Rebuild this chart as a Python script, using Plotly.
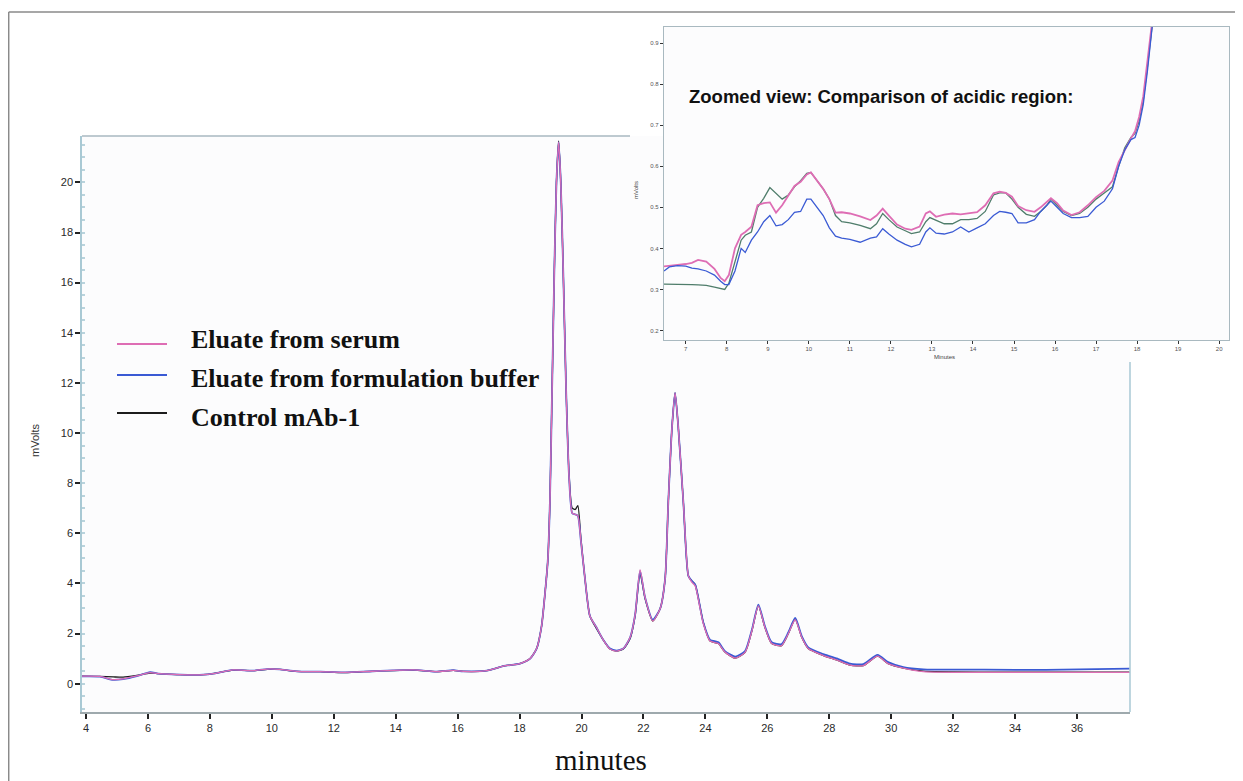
import plotly.graph_objects as go

# page body adds an 8px margin; the figure is sized to fill the rest of the window
OFF = 8
FW, FH = 1243 - OFF, 781 - OFF

# ---------------- main chromatogram data (minutes, mVolts) ----------------
t_main = [3.87, 4.45, 4.88, 5.2, 5.64, 6.07, 6.33, 7.04, 7.79, 8.1,
          8.75, 9.4, 9.94, 10.26, 10.8, 11.56, 12.31, 12.95, 14.57, 15.32,
          15.86, 16.18, 16.94, 17.47, 18.01, 18.34, 18.55, 18.71, 18.82, 18.91,
          18.98, 19.05, 19.12, 19.19, 19.26, 19.33, 19.41, 19.5, 19.6, 19.7,
          19.8, 19.88, 19.98, 20.11, 20.27, 20.48, 20.7, 20.92, 21.13, 21.35,
          21.57, 21.73, 21.89, 22.05, 22.3, 22.54, 22.7, 22.8, 22.92, 23.02,
          23.12, 23.29, 23.45, 23.56, 23.67, 23.93, 24.15, 24.42, 24.63, 24.96,
          25.28, 25.5, 25.71, 25.92, 26.14, 26.46, 26.68, 26.9, 27.11, 27.32,
          27.81, 28.29, 28.67, 29.1, 29.56, 29.9, 30.39, 31.04, 33.0, 35.0,
          37.7]

control_main = [0.30, 0.29, 0.27, 0.26, 0.33, 0.42, 0.40, 0.36, 0.36, 0.40,
                0.54, 0.52, 0.58, 0.57, 0.49, 0.48, 0.44, 0.48, 0.54, 0.48,
                0.53, 0.49, 0.52, 0.70, 0.80, 1.00, 1.40, 2.30, 3.60, 4.90,
                7.30, 11.8, 16.4, 20.0, 21.65, 20.0, 16.4, 11.8, 8.3, 7.0,
                6.95, 7.1, 5.8, 4.2, 2.7, 2.2, 1.75, 1.38, 1.30, 1.38,
                1.80, 2.70, 4.40, 3.40, 2.50, 3.00, 4.20, 7.20, 10.2, 11.6,
                10.3, 7.2, 4.3, 4.1, 3.95, 2.45, 1.70, 1.60, 1.26, 1.02,
                1.25, 2.10, 3.10, 2.25, 1.60, 1.52, 2.00, 2.58, 1.85, 1.40,
                1.12, 0.92, 0.74, 0.72, 1.10, 0.80, 0.62, 0.50, 0.46, 0.46,
                0.46]

serum_main = [0.30, 0.29, 0.16, 0.19, 0.31, 0.44, 0.40, 0.36, 0.36, 0.40,
              0.55, 0.52, 0.59, 0.57, 0.49, 0.48, 0.45, 0.48, 0.55, 0.48,
              0.53, 0.49, 0.52, 0.70, 0.80, 1.00, 1.40, 2.30, 3.60, 4.90,
              7.30, 11.8, 16.4, 20.0, 21.6, 20.0, 16.4, 11.8, 8.2, 6.8,
              6.75, 6.7, 5.7, 4.2, 2.7, 2.25, 1.75, 1.38, 1.30, 1.40,
              1.85, 2.75, 4.55, 3.45, 2.50, 3.00, 4.20, 7.20, 10.2, 11.6,
              10.3, 7.2, 4.3, 4.05, 3.9, 2.4, 1.70, 1.60, 1.26, 1.02,
              1.25, 2.10, 3.10, 2.25, 1.60, 1.52, 2.00, 2.55, 1.85, 1.40,
              1.12, 0.92, 0.74, 0.72, 1.10, 0.80, 0.62, 0.48, 0.45, 0.45,
              0.45]

buffer_main = [0.29, 0.28, 0.15, 0.18, 0.30, 0.46, 0.40, 0.36, 0.36, 0.40,
               0.55, 0.52, 0.59, 0.57, 0.49, 0.48, 0.45, 0.48, 0.55, 0.48,
               0.54, 0.49, 0.52, 0.70, 0.80, 1.00, 1.40, 2.30, 3.60, 4.90,
               7.30, 11.8, 16.4, 20.0, 21.6, 20.0, 16.4, 11.8, 8.2, 6.8,
               6.75, 6.7, 5.7, 4.2, 2.7, 2.25, 1.75, 1.40, 1.32, 1.40,
               1.85, 2.75, 4.50, 3.45, 2.55, 3.00, 4.20, 7.20, 10.2, 11.6,
               10.3, 7.2, 4.3, 4.1, 3.95, 2.45, 1.75, 1.65, 1.30, 1.08,
               1.30, 2.15, 3.15, 2.30, 1.65, 1.58, 2.05, 2.62, 1.90, 1.45,
               1.18, 0.98, 0.80, 0.78, 1.15, 0.86, 0.66, 0.57, 0.56, 0.55,
               0.60]

# ---------------- inset (acidic region) data ----------------
t_inset = [6.47, 6.6, 6.8, 7.0, 7.15, 7.3, 7.5, 7.7, 7.85, 7.95,
           8.05, 8.2, 8.35, 8.45, 8.6, 8.75, 8.9, 9.05, 9.2, 9.35,
           9.5, 9.65, 9.8, 9.95, 10.05, 10.2, 10.35, 10.5, 10.65, 10.8,
           11.0, 11.25, 11.5, 11.65, 11.8, 11.95, 12.15, 12.35, 12.5, 12.7,
           12.85, 12.95, 13.1, 13.3, 13.5, 13.7, 13.9, 14.1, 14.3, 14.5,
           14.65, 14.8, 14.95, 15.1, 15.3, 15.5, 15.65, 15.8, 15.9, 16.05,
           16.2, 16.4, 16.6, 16.8, 17.0, 17.2, 17.4, 17.55, 17.7, 17.85,
           17.95, 18.05, 18.15, 18.25, 18.32, 18.4]

control_inset = [0.313, 0.313, 0.312, 0.313, 0.312, 0.311, 0.31, 0.306, 0.302, 0.3,
                 0.315, 0.37, 0.42, 0.432, 0.44, 0.5, 0.522, 0.548, 0.535, 0.52,
                 0.53, 0.55, 0.565, 0.583, 0.585, 0.565, 0.545, 0.52, 0.48, 0.465,
                 0.462, 0.456, 0.448, 0.46, 0.485, 0.47, 0.452, 0.443, 0.436, 0.44,
                 0.465, 0.475, 0.468, 0.46, 0.46, 0.47, 0.47, 0.473, 0.49, 0.53,
                 0.535, 0.535, 0.52, 0.5, 0.483, 0.478, 0.49, 0.505, 0.52, 0.505,
                 0.49, 0.48, 0.485, 0.5, 0.52, 0.535, 0.55, 0.6, 0.645, 0.67,
                 0.68, 0.71, 0.76, 0.84, 0.9, 0.97]

buffer_inset = [0.345, 0.355, 0.358, 0.357, 0.352, 0.35, 0.345, 0.335, 0.32, 0.312,
                0.312, 0.345, 0.4, 0.39, 0.42, 0.44, 0.465, 0.48, 0.455, 0.458,
                0.47, 0.488, 0.49, 0.52, 0.52, 0.5, 0.48, 0.45, 0.43, 0.425,
                0.422, 0.415, 0.425, 0.428, 0.448, 0.435, 0.42, 0.41, 0.404, 0.41,
                0.44, 0.45, 0.437, 0.435, 0.44, 0.452, 0.44, 0.45, 0.46, 0.48,
                0.49, 0.488, 0.485, 0.462, 0.462, 0.47, 0.49, 0.505, 0.515, 0.5,
                0.485, 0.475, 0.475, 0.478, 0.5, 0.515, 0.545, 0.6, 0.64, 0.665,
                0.67, 0.7, 0.75, 0.83, 0.9, 0.97]

serum_inset = [0.356, 0.358, 0.36, 0.362, 0.365, 0.372, 0.368, 0.35, 0.328, 0.32,
               0.335, 0.4, 0.433, 0.44, 0.453, 0.505, 0.51, 0.512, 0.487, 0.505,
               0.53, 0.552, 0.562, 0.58, 0.585, 0.566, 0.545, 0.52, 0.487, 0.488,
               0.485, 0.478, 0.469, 0.48, 0.497, 0.48, 0.458, 0.448, 0.445, 0.453,
               0.485, 0.49, 0.477, 0.482, 0.485, 0.483, 0.485, 0.488, 0.505, 0.534,
               0.538, 0.535, 0.526, 0.503, 0.493, 0.489, 0.5, 0.512, 0.522, 0.51,
               0.492, 0.481, 0.488, 0.505, 0.525, 0.54, 0.565, 0.61, 0.64, 0.668,
               0.685, 0.72, 0.77, 0.86, 0.92, 0.98]

series_names = ["Eluate from serum", "Eluate from formulation buffer", "Control mAb-1"]
main_ticks_x = list(range(4, 37, 2))
main_ticks_y = list(range(0, 21, 2))
inset_ticks_x = list(range(7, 21))
inset_ticks_y = [0.2, 0.3, 0.4, 0.5, 0.6, 0.7, 0.8, 0.9]

PINK = "#de6db4"
BLUE = "#3a5ad4"
BLACK = "#1c1c1c"
GREEN = "#4f7d6b"


def px(x):
    """window pixel x -> paper fraction"""
    return (x - OFF) / FW


def py(y):
    """window pixel y -> paper fraction"""
    return 1 - (y - OFF) / FH


fig = go.Figure()

# main plot traces
fig.add_trace(go.Scatter(x=t_main, y=control_main, mode="lines", name=series_names[2],
                         line=dict(color=BLACK, width=1.3, shape="spline", smoothing=0.6),
                         xaxis="x", yaxis="y", showlegend=False))
fig.add_trace(go.Scatter(x=t_main, y=buffer_main, mode="lines", name=series_names[1],
                         line=dict(color=BLUE, width=1.8, shape="spline", smoothing=0.6),
                         xaxis="x", yaxis="y", showlegend=False))
fig.add_trace(go.Scatter(x=t_main, y=serum_main, mode="lines", name=series_names[0],
                         line=dict(color=PINK, width=1.3, shape="spline", smoothing=0.6),
                         xaxis="x", yaxis="y", showlegend=False))

# inset traces
fig.add_trace(go.Scatter(x=t_inset, y=control_inset, mode="lines", name=series_names[2],
                         line=dict(color=GREEN, width=1.3),
                         xaxis="x2", yaxis="y2", showlegend=False))
fig.add_trace(go.Scatter(x=t_inset, y=serum_inset, mode="lines", name=series_names[0],
                         line=dict(color=PINK, width=1.8),
                         xaxis="x2", yaxis="y2", showlegend=False))
fig.add_trace(go.Scatter(x=t_inset, y=buffer_inset, mode="lines", name=series_names[1],
                         line=dict(color=BLUE, width=1.3),
                         xaxis="x2", yaxis="y2", showlegend=False))

tickfont_main = dict(family="Liberation Sans, Arial", size=11, color="#2a2a2a")
tickfont_inset = dict(family="Liberation Sans, Arial", size=6, color="#555")

fig.update_layout(
    width=FW, height=FH, autosize=False,
    margin=dict(l=0, r=0, t=0, b=0),
    paper_bgcolor="#ffffff",
    plot_bgcolor="#fcfcfd",
    xaxis=dict(domain=[px(82), px(1130)], range=[3.87, 37.71], anchor="y",
               tickvals=main_ticks_x, ticks="outside", ticklen=5, tickwidth=1.5,
               tickcolor="#222", showline=True, linecolor="#9ea9ad", linewidth=1.5,
               showgrid=False, zeroline=False, tickfont=tickfont_main),
    yaxis=dict(domain=[py(712), py(136)], range=[-1.13, 21.85], anchor="x",
               tickvals=main_ticks_y, ticks="outside", ticklen=5, tickwidth=1.5,
               tickcolor="#222", showline=True, linecolor="#a9c9d4", linewidth=1.5,
               showgrid=False, zeroline=False, tickfont=tickfont_main,
               minor=dict(dtick=0.5, ticks="inside", ticklen=3, tickcolor="#b9d3dc")),
    xaxis2=dict(domain=[px(664), px(1229)], range=[6.47, 20.24], anchor="y2",
                tickvals=inset_ticks_x, ticks="outside", ticklen=3, tickwidth=1,
                tickcolor="#333", showline=True, mirror=True, linecolor="#a9b9c0",
                linewidth=1.2, showgrid=False, zeroline=False, tickfont=tickfont_inset),
    yaxis2=dict(domain=[py(340), py(27)], range=[0.177, 0.939], anchor="x2",
                tickvals=inset_ticks_y, ticktext=[f"{v:.1f}" for v in inset_ticks_y],
                ticks="outside", ticklen=3, tickwidth=1, tickcolor="#333",
                showline=True, mirror=True, linecolor="#a9b9c0", linewidth=1.2,
                showgrid=False, zeroline=False, tickfont=tickfont_inset),
)

shapes = []
# outer frame
shapes.append(dict(type="line", xref="paper", yref="paper", x0=px(8.7), x1=1.0, y0=py(12), y1=py(12),
                   line=dict(color="#8a8a8a", width=1.5)))
shapes.append(dict(type="line", xref="paper", yref="paper", x0=px(8.7), x1=px(8.7), y0=0, y1=py(12),
                   line=dict(color="#8a8a8a", width=1.5)))
# main box: top (partially hidden by inset) and right
shapes.append(dict(type="line", xref="paper", yref="paper", x0=px(82), x1=px(630), y0=py(136), y1=py(136),
                   line=dict(color="#a9b9c0", width=1.5)))
shapes.append(dict(type="line", xref="paper", yref="paper", x0=px(1130), x1=px(1130), y0=py(712), y1=py(362),
                   line=dict(color="#a9c9d4", width=1.5)))
# legend keys
legend_rows = [(series_names[0], PINK, 344, 340), (series_names[1], BLUE, 375, 379),
               (series_names[2], BLACK, 413, 417)]
annotations = []
for name, col, ly, ty in legend_rows:
    shapes.append(dict(type="line", xref="paper", yref="paper", x0=px(117), x1=px(167),
                       y0=py(ly), y1=py(ly), line=dict(color=col, width=2)))
    annotations.append(dict(text="<b>" + name + "</b>", xref="paper", yref="paper", x=px(189), y=py(ty),
                            xanchor="left", yanchor="middle", showarrow=False,
                            font=dict(family="Liberation Serif, Times New Roman", size=26,
                                      color="#111")))

annotations += [
    dict(text="<b>Zoomed view: Comparison of acidic region:</b>", xref="paper", yref="paper",
         x=px(687), y=py(97), xanchor="left", yanchor="middle", showarrow=False,
         font=dict(family="Liberation Sans, Arial", size=18.5, color="#111")),
    dict(text="mVolts", xref="paper", yref="paper", x=px(35), y=py(440), textangle=-90,
         xanchor="center", yanchor="middle", showarrow=False,
         font=dict(family="Liberation Sans, Arial", size=11, color="#333")),
    dict(text="minutes", xref="paper", yref="paper", x=px(601), y=py(760),
         xanchor="center", yanchor="middle", showarrow=False,
         font=dict(family="Liberation Serif, Times New Roman", size=29, color="#111")),
    dict(text="mVolts", xref="paper", yref="paper", x=px(636), y=py(190), textangle=-90,
         xanchor="center", yanchor="middle", showarrow=False,
         font=dict(family="Liberation Sans, Arial", size=6, color="#444")),
    dict(text="Minutes", xref="paper", yref="paper", x=px(944), y=py(357),
         xanchor="center", yanchor="middle", showarrow=False,
         font=dict(family="Liberation Sans, Arial", size=6, color="#444")),
]

fig.update_layout(shapes=shapes, annotations=annotations)

fig.write_html("out.html")
